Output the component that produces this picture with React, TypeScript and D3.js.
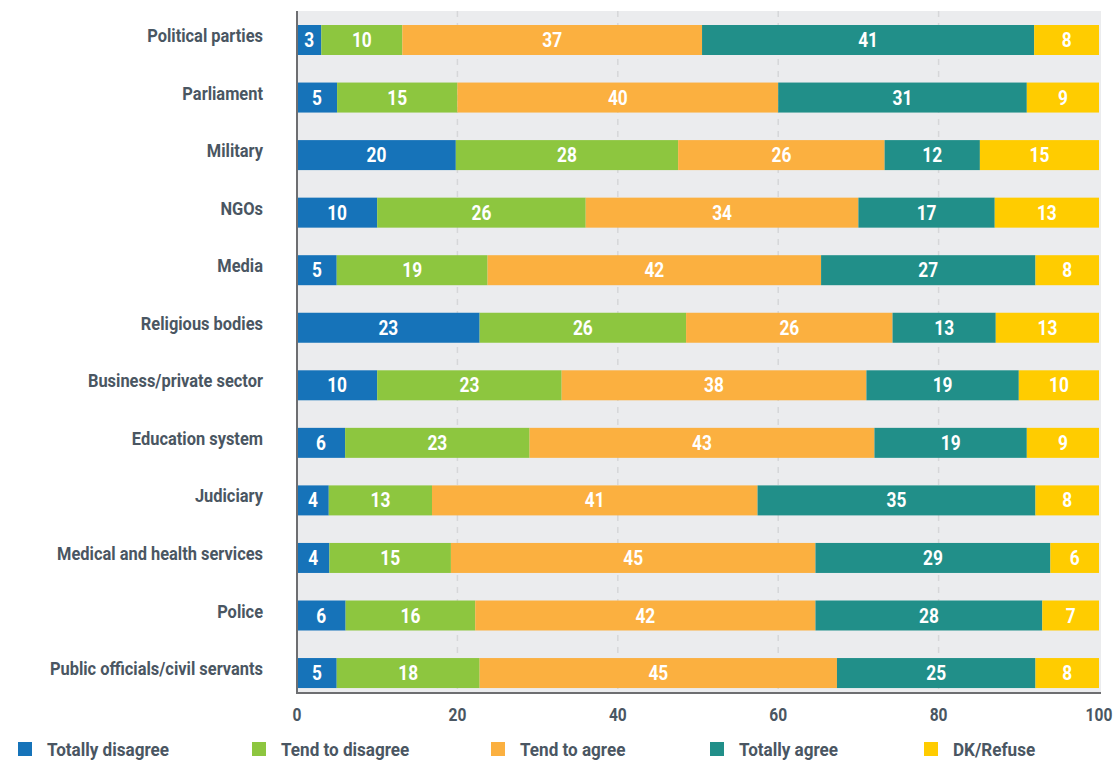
import React from "react";
import * as d3 from "d3";

const categories = [
  "Political parties",
  "Parliament",
  "Military",
  "NGOs",
  "Media",
  "Religious bodies",
  "Business/private sector",
  "Education system",
  "Judiciary",
  "Medical and health services",
  "Police",
  "Public officials/civil servants",
];

const seriesNames = ["Totally disagree", "Tend to disagree", "Tend to agree", "Totally agree", "DK/Refuse"];
const seriesColors = ["#1673b9", "#8dc63f", "#fbb040", "#218f89", "#ffcc00"];

const totallyDisagree = [3, 5, 20, 10, 5, 23, 10, 6, 4, 4, 6, 5];
const tendToDisagree = [10, 15, 28, 26, 19, 26, 23, 23, 13, 15, 16, 18];
const tendToAgree = [37, 40, 26, 34, 42, 26, 38, 43, 41, 45, 42, 45];
const totallyAgree = [41, 31, 12, 17, 27, 13, 19, 19, 35, 29, 28, 25];
const dkRefuse = [8, 9, 15, 13, 8, 13, 10, 9, 8, 6, 7, 8];

const xTicks = [0, 20, 40, 60, 80, 100];
const legendX = [18, 252, 491, 710, 924];

const FONT = "Roboto, 'Noto Sans', sans-serif";

function T(props: {
  x: number;
  y: number;
  anchor?: string;
  size: number;
  fill: string;
  sx?: number;
  children: React.ReactNode;
}) {
  return (
    <text
      transform={`translate(${props.x},${props.y}) scale(${props.sx ?? 0.865},1)`}
      textAnchor={props.anchor || "start"}
      fontSize={props.size}
      fontWeight="bold"
      fill={props.fill}
    >
      {props.children}
    </text>
  );
}

export default function App() {
  const W = 1115, H = 761;
  const plotTop = 11, plotBottom = 693, plotLeft = 297, plotRight = 1101;
  const x = d3.scaleLinear().domain([0, 100]).range([plotLeft, 1099]);
  const step = 57.55;
  const y = d3
    .scaleBand<string>()
    .domain(categories)
    .range([40 - step / 2, 40 - step / 2 + step * categories.length])
    .paddingInner(0.48)
    .paddingOuter(0.24);

  const series = [totallyDisagree, tendToDisagree, tendToAgree, totallyAgree, dkRefuse];
  const rows = categories.map((c, i) => {
    const vals = series.map((s) => s[i]);
    const total = d3.sum(vals);
    let acc = 0;
    return vals.map((v, k) => {
      const norm = (v / total) * 100;
      const seg = { cat: c, k, v, x0: acc, x1: acc + norm };
      acc += norm;
      return seg;
    });
  });

  const bw = 30;
  const labelColor = "#4a5662";

  return (
    <svg width={W} height={H} style={{ position: "absolute", left: 0, top: 0, background: "#fff" }} fontFamily={FONT}>
      <rect x={plotLeft} y={plotTop} width={plotRight - plotLeft} height={plotBottom - plotTop} fill="#ebecee" />
      {xTicks.filter((t) => t > 0 && t < 100).map((t) => (
        <line key={t} x1={x(t)} x2={x(t)} y1={plotTop} y2={plotBottom} stroke="#d6d7d9" strokeWidth={1.5} strokeDasharray="6 6" />
      ))}
      {rows.map((segs, i) => {
        const cy = (y(categories[i]) as number) + y.bandwidth() / 2;
        return (
          <g key={categories[i]}>
            <T x={263} y={cy + 2} anchor="end" size={19} fill={labelColor}>
              {categories[i]}
            </T>
            {segs.map((s) => (
              <g key={s.k}>
                <rect x={x(s.x0)} y={cy - bw / 2} width={x(s.x1) - x(s.x0)} height={bw} fill={seriesColors[s.k]} />
                <T x={(x(s.x0) + x(s.x1)) / 2} y={cy + 7} anchor="middle" size={20} fill="#fff">
                  {s.v}
                </T>
              </g>
            ))}
          </g>
        );
      })}
      <line x1={plotLeft} x2={plotLeft} y1={plotTop} y2={plotBottom + 1} stroke="#6d6e71" strokeWidth={2} />
      <line x1={plotLeft - 1} x2={plotRight} y1={plotBottom} y2={plotBottom} stroke="#6d6e71" strokeWidth={2} />
      {xTicks.map((t) => (
        <T key={t} x={x(t)} y={721} anchor="middle" size={18} fill={labelColor}>
          {t}
        </T>
      ))}
      {seriesNames.map((n, k) => (
        <g key={n} transform={`translate(${legendX[k]},742)`}>
          <rect x={0} y={0} width={14} height={14} fill={seriesColors[k]} />
          <T x={29} y={14} size={19} sx={0.9} fill={labelColor}>
            {n}
          </T>
        </g>
      ))}
    </svg>
  );
}
